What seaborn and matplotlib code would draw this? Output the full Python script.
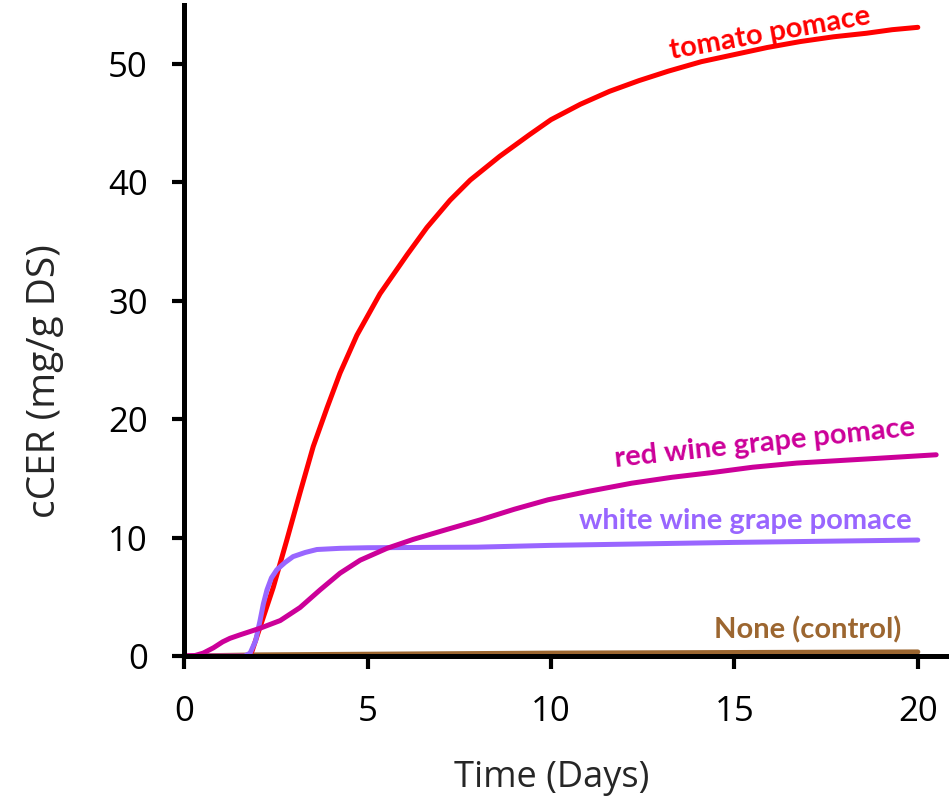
import numpy as np
import pandas as pd
import matplotlib
matplotlib.use("Agg")
import matplotlib.pyplot as plt
import seaborn as sns

# Cumulative CER readings (days, mg/g DS)
tomato_days = [0, 1.75, 1.85, 2.07, 2.43, 2.8, 3.16, 3.52, 3.9, 4.25, 4.71, 5.34, 6.08,
               6.62, 7.25, 7.8, 8.6, 9.4, 10.0, 10.8, 11.6, 12.4, 13.2, 14.1, 15.0,
               15.9, 16.8, 17.7, 18.6, 19.3, 20.0]
tomato_vals = [0, 0, 0.4, 2.45, 5.8, 9.8, 13.8, 17.7, 21.0, 23.9, 27.1, 30.6, 33.9,
               36.2, 38.5, 40.2, 42.2, 44.0, 45.3, 46.6, 47.7, 48.6, 49.4, 50.2, 50.8,
               51.4, 51.9, 52.3, 52.6, 52.9, 53.1]

redwine_days = [0, 0.3, 0.52, 0.8, 1.05, 1.25, 1.53, 2.07, 2.62, 3.16, 3.71, 4.25, 4.8,
                5.53, 6.24, 7.17, 8.07, 9.0, 9.92, 11.0, 12.2, 13.3, 14.4, 15.5, 16.7,
                17.8, 18.9, 20.5]
redwine_vals = [0, 0.05, 0.25, 0.7, 1.2, 1.5, 1.8, 2.35, 3.0, 4.1, 5.6, 7.0, 8.1,
                9.1, 9.85, 10.7, 11.5, 12.4, 13.2, 13.9, 14.6, 15.1, 15.5, 15.95, 16.3,
                16.5, 16.7, 17.0]

whitewine_days = [0, 1.65, 1.8, 1.95, 2.07, 2.16, 2.26, 2.38, 2.53, 2.75, 2.97, 3.3,
                  3.62, 4.25, 5.0, 8.0, 10.0, 15.0, 20.0]
whitewine_vals = [0, 0, 0.25, 1.3, 3.0, 4.4, 5.6, 6.6, 7.3, 7.9, 8.4, 8.75,
                  9.0, 9.1, 9.15, 9.2, 9.35, 9.6, 9.8]

control_days = [0, 2.0, 10.0, 20.0]
control_vals = [0, 0.1, 0.25, 0.35]

series_names = ["None (control)", "tomato pomace", "white wine grape pomace",
                "red wine grape pomace"]
series_colors = ["#9C6630", "#FF0000", "#9966FF", "#CC0099"]

frames = []
for name, d, v in zip(series_names,
                      [control_days, tomato_days, whitewine_days, redwine_days],
                      [control_vals, tomato_vals, whitewine_vals, redwine_vals]):
    frames.append(pd.DataFrame({"day": d, "cCER": v, "substrate": name}))
df = pd.concat(frames, ignore_index=True)

sns.set_style("white")
plt.rcParams["font.family"] = ["Open Sans", "DejaVu Sans"]

fig = plt.figure(figsize=(9.49, 8.05), dpi=100)
ax = fig.add_axes([0.194, 0.185, 0.806, 0.809])

for name, color in zip(series_names, series_colors):
    sns.lineplot(data=df[df["substrate"] == name], x="day", y="cCER", color=color,
                 linewidth=3.6, ax=ax, legend=False)
for line in ax.get_lines():
    line.set_solid_capstyle("round")
    line.set_solid_joinstyle("round")

ax.set_xlim(0, 20.85)
ax.set_ylim(0, 55)
ax.set_xticks([0, 5, 10, 15, 20])
ax.set_yticks([0, 10, 20, 30, 40, 50])
for s in ["top", "right"]:
    ax.spines[s].set_visible(False)
for s in ["left", "bottom"]:
    ax.spines[s].set_linewidth(3.6)
    ax.spines[s].set_color("black")
ax.tick_params(axis="both", which="major", direction="out", length=9, width=3,
               labelsize=25, color="black", labelcolor="black")
ax.tick_params(axis="y", pad=17)
ax.tick_params(axis="x", pad=19)
ax.xaxis.set_ticks_position("bottom")
ax.yaxis.set_ticks_position("left")

ax.set_xlabel("Time (Days)", fontsize=26)
ax.xaxis.label.set_va("center")
ax.xaxis.set_label_coords(0.481, -0.187)
ax.set_ylabel("cCER (mg/g DS)", fontsize=28)
ax.yaxis.label.set_va("center")
ax.yaxis.set_label_coords(-0.182, 0.422)

label_kw = dict(fontsize=21, fontweight="bold", ha="center", va="center",
                family=["Lato", "DejaVu Sans"])
ax.text(15.97, 52.6, "tomato pomace", color="#FF0000", rotation=10, **label_kw)
ax.text(15.83, 18.0, "red wine grape pomace", color="#CC0099", rotation=6, **label_kw)
ax.text(15.3, 11.4, "white wine grape pomace", color="#9966FF", **label_kw)
ax.text(17.0, 2.2, "None (control)", color="#9C6630", **label_kw)

fig.savefig("out.png", dpi=100)
